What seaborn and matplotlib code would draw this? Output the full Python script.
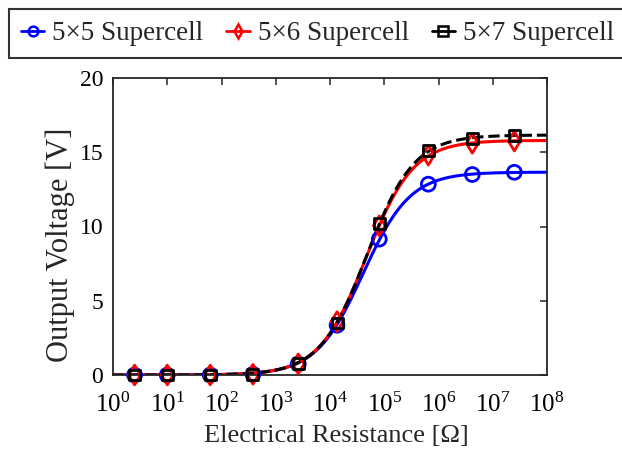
import numpy as np
import matplotlib
matplotlib.use("Agg")
import matplotlib.pyplot as plt
from matplotlib.lines import Line2D
from matplotlib.ticker import NullLocator, LogFormatterMathtext
import seaborn as sns

# Measured load sweep: resistance [Ohm] and output voltage [V] per supercell
resistance = [2.5, 10, 62, 380, 2.6e3, 1.35e4, 8.1e4, 6.5e5, 4.2e6, 2.5e7]
v_5x5 = [0.0, 0.0, 0.0, 0.05, 0.75, 3.35, 9.15, 12.85, 13.5, 13.65]
v_5x6 = [0.0, 0.0, 0.0, 0.05, 0.75, 3.6, 10.05, 14.8, 15.6, 15.75]
v_5x7 = [0.0, 0.0, 0.0, 0.05, 0.75, 3.5, 10.2, 15.1, 15.95, 16.1]

series_labels = ["5×5 Supercell", "5×6 Supercell", "5×7 Supercell"]
series_values = [v_5x5, v_5x6, v_5x7]
colors = ["#0000ff", "#ff0000", "#000000"]
markers = ["o", "d", "s"]
marker_sizes = [100, 100, 62]
linestyles = ["-", "-", "--"]

x_ticks = [10.0 ** k for k in range(0, 9)]
y_ticks = [0, 5, 10, 15, 20]


def fit_load_curve(r, v):
    """Least-squares fit of V = Voc * R / (R + Rint)."""
    r = np.asarray(r, dtype=float)
    v = np.asarray(v, dtype=float)
    best = None
    for rint in np.logspace(2, 7, 4001):
        g = r / (r + rint)
        voc = (g @ v) / (g @ g)
        err = np.sum((v - voc * g) ** 2)
        if best is None or err < best[0]:
            best = (err, voc, rint)
    return best[1], best[2]


sns.set_theme(style="white")
plt.rcParams["font.family"] = ["Liberation Serif", "DejaVu Serif"]
plt.rcParams["mathtext.fontset"] = "custom"
plt.rcParams["mathtext.rm"] = "Liberation Serif"
plt.rcParams["mathtext.it"] = "Liberation Serif:italic"

fig = plt.figure(figsize=(6.22, 4.54), dpi=100)
ax = fig.add_axes([113 / 622, 1 - 375 / 454, (547 - 113) / 622, (375 - 78) / 454])

r_grid = np.logspace(0, 8, 500)
for vals, col, mk, ms, ls in zip(series_values, colors, markers, marker_sizes, linestyles):
    voc, rint = fit_load_curve(resistance, vals)
    sns.lineplot(x=r_grid, y=voc * r_grid / (r_grid + rint), ax=ax, color=col,
                 linewidth=2.2, linestyle=ls, estimator=None, sort=False)
    sns.scatterplot(x=resistance, y=vals, ax=ax, marker=mk, s=ms,
                    facecolors="none", edgecolor=col, linewidth=2.0,
                    clip_on=False, zorder=3)

ax.set_xscale("log")
ax.set_xlim(1, 1e8)
ax.set_ylim(0, 20)
ax.set_xticks(x_ticks)
ax.xaxis.set_minor_locator(NullLocator())
ax.xaxis.set_major_formatter(LogFormatterMathtext())
ax.set_yticks(y_ticks)

ax.tick_params(direction="in", length=5, width=1.1, top=True, right=True,
               colors="#262626", labelcolor="black")
ax.tick_params(axis="x", labelsize=18, pad=13)
ax.tick_params(axis="y", labelsize=17, pad=7)
for sp in ax.spines.values():
    sp.set_linewidth(1.3)
    sp.set_color("#262626")

ax.set_xlabel("Electrical Resistance [Ω]", fontsize=19)
ax.set_ylabel("Output Voltage [V]", fontsize=22)
ax.xaxis.set_label_coords(0.514, -0.17)
ax.yaxis.set_label_coords(-0.088, 0.438)

handles = [Line2D([], [], color=c, marker=m, markersize=7, markerfacecolor="none",
                  markeredgewidth=1.8, linewidth=2.0)
           for c, m in zip(colors, markers)]
leg = fig.legend(handles, series_labels, loc="upper left",
                 bbox_to_anchor=(9 / 622, 1 - 9 / 454), ncol=3, fontsize=19.5,
                 frameon=True, fancybox=False, edgecolor="black",
                 handlelength=0.85, handletextpad=0.3, columnspacing=0.85,
                 borderpad=0.45, borderaxespad=0)
leg.get_frame().set_linewidth(1.5)

fig.savefig("out.png", dpi=100)
